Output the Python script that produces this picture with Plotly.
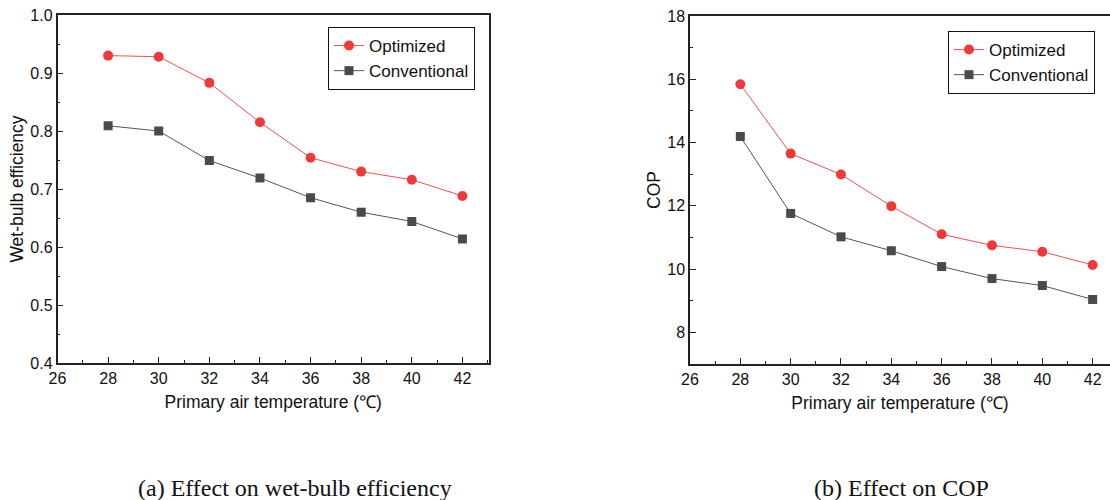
import plotly.graph_objects as go

# Primary air temperature (°C)
temps = [28, 30, 32, 34, 36, 38, 40, 42]

# Wet-bulb efficiency
wb_optimized = [0.930, 0.928, 0.883, 0.815, 0.754, 0.730, 0.716, 0.688]
wb_conventional = [0.809, 0.800, 0.749, 0.719, 0.685, 0.660, 0.644, 0.614]

# Coefficient of performance
cop_optimized = [15.84, 13.65, 12.99, 11.99, 11.10, 10.75, 10.55, 10.13]
cop_conventional = [14.19, 11.76, 11.02, 10.58, 10.08, 9.70, 9.48, 9.04]

x_ticks = [26, 28, 30, 32, 34, 36, 38, 40, 42]
wb_ticks = [0.4, 0.5, 0.6, 0.7, 0.8, 0.9, 1.0]
cop_ticks = [8, 10, 12, 14, 16, 18]

RED = "#EE3A3A"
RED_LINE = "#F05050"
GREY = "#4A4A4A"
GREY_LINE = "#555555"
AXIS = "#222222"
W, H = 1110, 500
SANS = "Liberation Sans, Arial, sans-serif"

fig = go.Figure()


def add_pair(x, y_opt, y_conv, xa, ya, legend):
    fig.add_trace(go.Scatter(
        x=x, y=y_opt, mode="lines+markers", name="Optimized",
        line=dict(color=RED_LINE, width=1),
        marker=dict(symbol="circle", size=10, color=RED),
        xaxis=xa, yaxis=ya, legend=legend))
    fig.add_trace(go.Scatter(
        x=x, y=y_conv, mode="lines+markers", name="Conventional",
        line=dict(color=GREY_LINE, width=1),
        marker=dict(symbol="square", size=9, color=GREY),
        xaxis=xa, yaxis=ya, legend=legend))


add_pair(temps, wb_optimized, wb_conventional, "x", "y", "legend")
add_pair(temps, cop_optimized, cop_conventional, "x2", "y2", "legend2")

tick_font = dict(family=SANS, size=16, color="#111111")
title_font = dict(family=SANS, size=17.5, color="#111111")

common_axis = dict(
    showline=True, linecolor=AXIS, linewidth=1.5,
    showgrid=False, zeroline=False, automargin=False,
    ticks="inside", ticklen=6, tickwidth=1.2, tickcolor=AXIS,
    tickfont=tick_font,
)
minor_x = dict(ticks="inside", ticklen=3, tickwidth=1.2, tickcolor=AXIS, dtick=1, showgrid=False)

legend_style = dict(
    xanchor="left", yanchor="top",
    bordercolor="#111111", borderwidth=1, bgcolor="white",
    font=dict(family=SANS, size=17, color="#111111"),
    tracegroupgap=0, itemwidth=30,
)

fig.update_layout(
    width=W, height=H,
    margin=dict(l=0, r=0, t=0, b=0, autoexpand=False),
    paper_bgcolor="white", plot_bgcolor="white",
    showlegend=True,
    xaxis=dict(**common_axis, domain=[57.5 / W, 489 / W], range=[26, 43.05],
               tickvals=x_ticks, mirror=True, minor=minor_x,
               title=dict(text="Primary air temperature (℃)", font=title_font, standoff=10),
               anchor="y"),
    yaxis=dict(**common_axis, domain=[1 - 363 / H, 1 - 15 / H], range=[0.4, 1.0],
               tickvals=wb_ticks, tickformat=".1f", mirror=True,
               minor=dict(ticks="inside", ticklen=3, tickwidth=1.2, tickcolor=AXIS,
                          dtick=0.05, showgrid=False),
               title=dict(text="Wet-bulb efficiency", font=title_font, standoff=2),
               anchor="x"),
    xaxis2=dict(**common_axis, domain=[690 / W, 1.0], range=[26, 42.69],
                tickvals=x_ticks, mirror=True, minor=minor_x,
                title=dict(text="Primary air temperature (℃)", font=title_font, standoff=10),
                anchor="y2"),
    yaxis2=dict(**common_axis, domain=[1 - 364 / H, 1 - 16 / H], range=[7, 18],
                tickvals=cop_ticks, mirror=False,
                minor=dict(ticks="inside", ticklen=3, tickwidth=1.2, tickcolor=AXIS,
                           dtick=1, showgrid=False),
                title=dict(text="COP", font=title_font, standoff=2),
                anchor="x2"),
    legend=dict(**legend_style, x=328 / W, y=1 - 27 / H),
    legend2=dict(**legend_style, x=948 / W, y=1 - 31 / H),
)

caption_font = dict(family="Liberation Serif, Times New Roman, serif", size=24, color="#111111")
fig.add_annotation(text="(a) Effect on wet-bulb efficiency", xref="paper", yref="paper",
                   x=295 / W, y=1 - 488 / H, xanchor="center", yanchor="middle",
                   showarrow=False, font=caption_font)
fig.add_annotation(text="(b) Effect on COP", xref="paper", yref="paper",
                   x=901 / W, y=1 - 488 / H, xanchor="center", yanchor="middle",
                   showarrow=False, font=caption_font)

fig.write_html("out.html")
